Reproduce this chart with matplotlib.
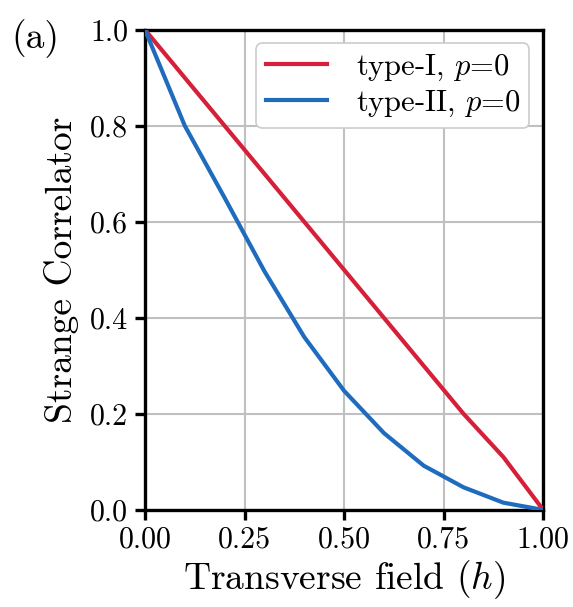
import matplotlib
matplotlib.use("Agg")
import matplotlib.pyplot as plt

plt.rcParams['font.family'] = ['cmr10', 'DejaVu Serif']
plt.rcParams['mathtext.fontset'] = 'cm'
plt.rcParams['axes.formatter.use_mathtext'] = True

h = [0.0, 0.1, 0.2, 0.3, 0.4, 0.5, 0.6, 0.7, 0.8, 0.9, 1.0]
type_I = [1.0, 0.9, 0.8, 0.7, 0.6, 0.5, 0.4, 0.3, 0.2, 0.11, 0.0]
type_II = [1.0, 0.80, 0.65, 0.497, 0.36, 0.248, 0.16, 0.092, 0.047, 0.015, 0.0]
labels = ['type-I, $p$=0', 'type-II, $p$=0']
xticks = [0.0, 0.25, 0.5, 0.75, 1.0]
yticks = [0.0, 0.2, 0.4, 0.6, 0.8, 1.0]

fig = plt.figure(figsize=(5.73, 6.07), dpi=100)
ax = fig.add_axes([0.253, 0.160, 0.695, 0.791])

ax.plot(h, type_I, color='#d62039', lw=3.0, label=labels[0], zorder=3)
ax.plot(h, type_II, color='#1f6cbf', lw=3.0, label=labels[1], zorder=3)

ax.set_xlim(0, 1)
ax.set_ylim(0, 1)
ax.set_xticks(xticks)
ax.set_yticks(yticks)
ax.set_xticklabels([f'{v:.2f}' for v in xticks])
ax.set_yticklabels([f'{v:.1f}' for v in yticks])
ax.grid(True, color='#c0c0c0', lw=1.5)
ax.set_axisbelow(True)
for s in ax.spines.values():
    s.set_linewidth(2.4)
    s.set_color('black')
ax.tick_params(axis='both', which='major', direction='out', length=7, width=2.4,
               labelsize=21.5, pad=5)
ax.tick_params(axis='both', which='minor', length=0)

ax.set_xlabel('Transverse field ($h$)', fontsize=27, labelpad=3)
ax.set_ylabel('Strange Correlator', fontsize=27, labelpad=8)

leg = ax.legend(loc='upper right', fontsize=22, frameon=True, fancybox=True,
                edgecolor='#cccccc', framealpha=1.0, handlelength=2.0,
                borderaxespad=0.45, labelspacing=0.2, borderpad=0.3,
                handletextpad=0.95)
leg.get_frame().set_linewidth(1.2)

fig.text(0.062, 0.936, '(a)', fontsize=27, ha='center', va='center')

fig.savefig('out.png', dpi=100)
